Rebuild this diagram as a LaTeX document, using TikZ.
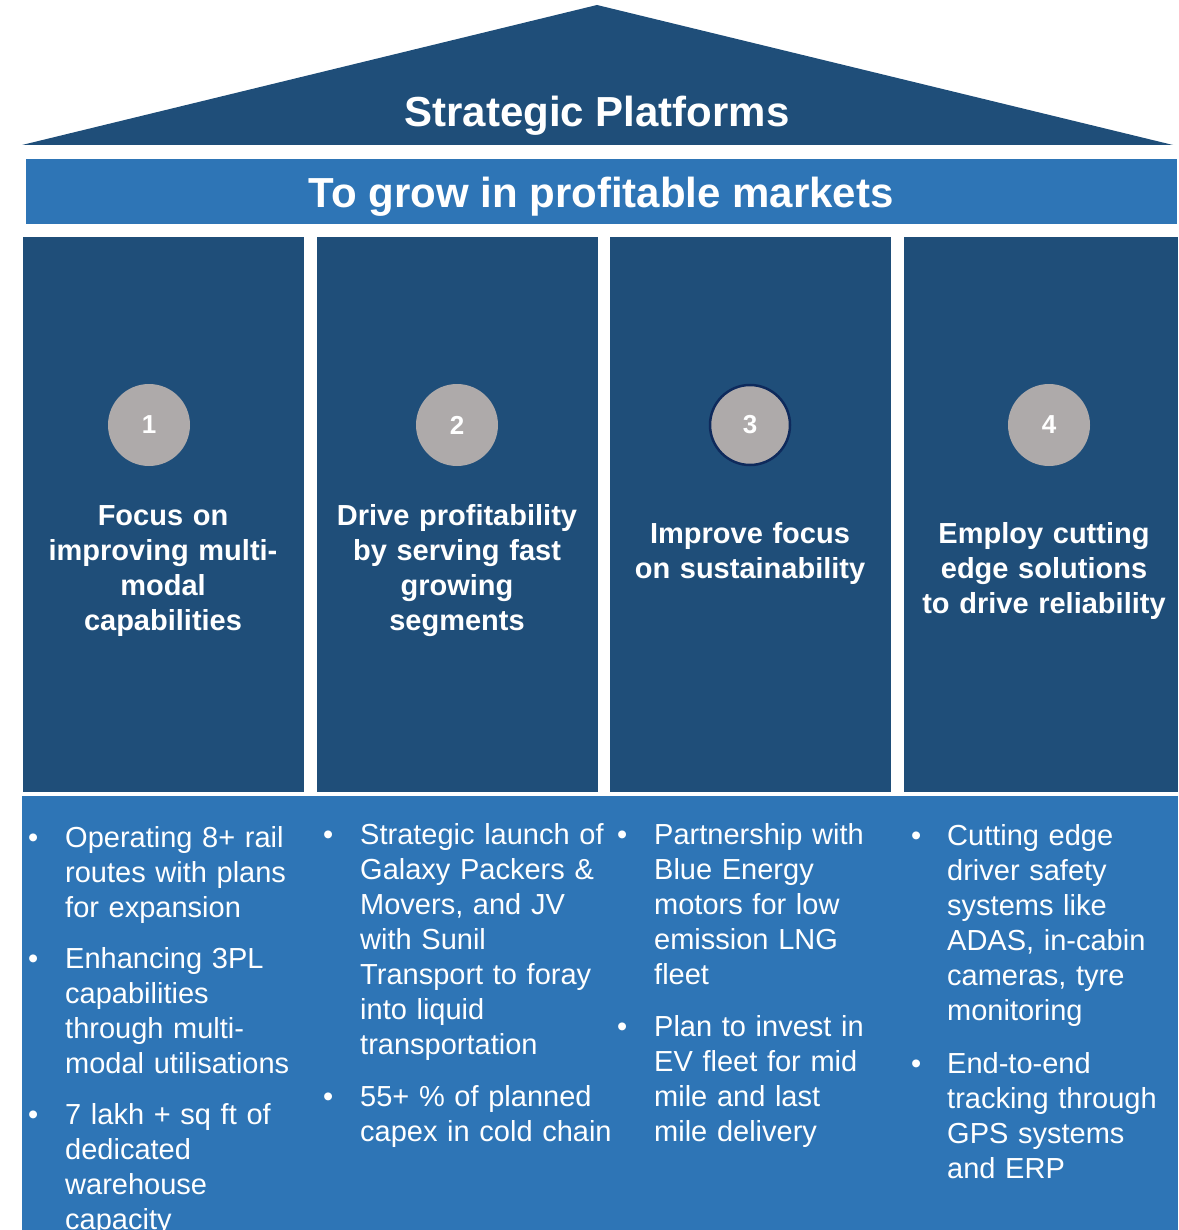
\documentclass[tikz,border=0pt]{standalone}
\usepackage{fontspec}
\setmainfont{Liberation Sans}
\definecolor{darkblue}{HTML}{1F4E79}
\definecolor{midblue}{HTML}{2E75B6}
\definecolor{circgray}{HTML}{AEAAAA}
\definecolor{navyline}{HTML}{0E2A5C}
\tikzset{
  colbox/.style={fill=darkblue, draw=none},
  numcirc/.style={circle, fill=circgray, minimum size=82pt, inner sep=0pt, text=white, font=\fontsize{26}{30}\selectfont\bfseries},
  heading/.style={anchor=base, text width=280pt, align=center, inner sep=0pt, text=white, font=\fontsize{29}{35}\selectfont\bfseries},
  item/.style={anchor=base west, text width=270pt, align=left, inner sep=0pt, text=white, font=\fontsize{29}{35}\selectfont},
  bul/.style={anchor=base west, inner sep=0pt, text=white, font=\fontsize{29}{35}\selectfont}
}
\begin{document}
\begin{tikzpicture}[x=1pt, y=-1pt]
\useasboundingbox (0,0) rectangle (1178,1230);
% roof
\fill[darkblue] (22,145) -- (597,5) -- (1173,145) -- cycle;
\node[anchor=base, text=white, inner sep=0pt, font=\fontsize{42}{48}\selectfont\bfseries] (title) at (597,127) {Strategic Platforms};
% band
\fill[midblue] (26,159) rectangle (1177,224);
\node[anchor=base, text=white, inner sep=0pt, font=\fontsize{42}{48}\selectfont\bfseries] (band) at (601,208) {To grow in profitable markets};
% columns
\fill[colbox] (23,237) rectangle (304,792);
\fill[colbox] (317,237) rectangle (598,792);
\fill[colbox] (610,237) rectangle (891,792);
\fill[colbox] (904,237) rectangle (1178,792);
% circles
\node[numcirc] (c1) at (149,425) {1};
\node[numcirc] (c2) at (457,425) {2};
\node[numcirc, draw=navyline, line width=2.5pt, minimum size=80pt] (c3) at (750,425) {3};
\node[numcirc] (c4) at (1049,425) {4};
% headings
\node[heading] (h1) at (163,525) {Focus on\\improving multi-\\modal\\capabilities};
\node[heading] (h2) at (457,525) {Drive profitability\\by serving fast\\growing\\segments};
\node[heading] (h3) at (750,543) {Improve focus\\on sustainability};
\node[heading] (h4) at (1044,543) {Employ cutting\\edge solutions\\to drive reliability};
% bottom panel
\fill[midblue] (22,796) rectangle (1178,1240);
% column 1
\node[bul] (b11) at (28,847) {•};
\node[item] (t11) at (65,847) {Operating 8+ rail\\routes with plans\\for expansion};
\node[bul] (b12) at (28,968) {•};
\node[item] (t12) at (65,968) {Enhancing 3PL\\capabilities\\through multi-\\modal utilisations};
\node[bul] (b13) at (28,1124) {•};
\node[item] (t13) at (65,1124) {7 lakh + sq ft of\\dedicated\\warehouse\\capacity};
% column 2
\node[bul] (b21) at (323,844) {•};
\node[item] (t21) at (360,844) {Strategic launch of\\Galaxy Packers \&\\Movers, and JV\\with Sunil\\Transport to foray\\into liquid\\transportation};
\node[bul] (b22) at (323,1106) {•};
\node[item] (t22) at (360,1106) {55+ \% of planned\\capex in cold chain};
% column 3
\node[bul] (b31) at (617,844) {•};
\node[item] (t31) at (654,844) {Partnership with\\Blue Energy\\motors for low\\emission LNG\\fleet};
\node[bul] (b32) at (617,1036) {•};
\node[item] (t32) at (654,1036) {Plan to invest in\\EV fleet for mid\\mile and last\\mile delivery};
% column 4
\node[bul] (b41) at (911,845) {•};
\node[item] (t41) at (947,845) {Cutting edge\\driver safety\\systems like\\ADAS, in-cabin\\cameras, tyre\\monitoring};
\node[bul] (b42) at (911,1073) {•};
\node[item] (t42) at (947,1073) {End-to-end\\tracking through\\GPS systems\\and ERP};
\end{tikzpicture}
\end{document}
